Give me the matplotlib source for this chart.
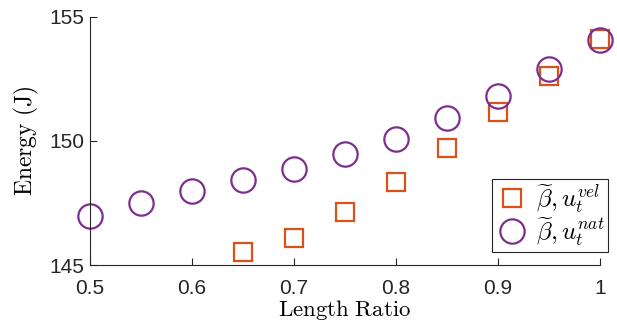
import matplotlib.pyplot as plt

plt.rcParams['mathtext.fontset'] = 'cm'
plt.rcParams['font.family'] = ['Liberation Sans', 'DejaVu Sans']

# energy vs length ratio for both tangential velocity choices
ratio_vel = [0.65, 0.70, 0.75, 0.80, 0.85, 0.90, 0.95, 1.00]
energy_vel = [145.54, 146.11, 147.12, 148.35, 149.72, 151.15, 152.6, 154.1]

ratio_nat = [0.50, 0.55, 0.60, 0.65, 0.70, 0.75, 0.80, 0.85, 0.90, 0.95, 1.00]
energy_nat = [146.98, 147.5, 147.98, 148.43, 148.89, 149.46, 150.1, 150.93, 151.83, 152.9, 154.09]

orange = '#D95319'
purple = '#7E2F8E'

fig = plt.figure(figsize=(6.17, 3.26), dpi=100)
ax = fig.add_axes([0.1459, 0.187, 0.8265, 0.761])

ax.plot(ratio_vel, energy_vel, 's', ms=13.5, mfc='none', mec=orange, mew=1.6,
        label=r'$\widetilde{\beta}, u_t^{vel}$')
ax.plot(ratio_nat, energy_nat, 'o', ms=17.5, mfc='none', mec=purple, mew=1.6,
        label=r'$\widetilde{\beta}, u_t^{nat}$')

ax.set_xlim(0.5, 1.0)
ax.set_ylim(145, 155)
ax.set_xticks([0.5, 0.6, 0.7, 0.8, 0.9, 1.0])
ax.set_xticklabels(['0.5', '0.6', '0.7', '0.8', '0.9', '1'])
ax.set_yticks([145, 150, 155])
ax.tick_params(direction='in', length=5, width=0.8, labelsize=15,
               colors='#262626', pad=4)
ax.tick_params(axis='x', pad=10)
for s in ['top', 'right']:
    ax.spines[s].set_visible(False)
for s in ['left', 'bottom']:
    ax.spines[s].set_color('#262626')
    ax.spines[s].set_linewidth(0.8)
for p in ax.lines:
    p.set_clip_on(False)

ax.set_xlabel(r'$\mathrm{Length\ Ratio}$', fontsize=16.5, labelpad=0)
ax.set_ylabel(r'$\mathrm{Energy\ (J)}$', fontsize=17, labelpad=6)

leg = ax.legend(loc='lower right', bbox_to_anchor=(0.986, 0.227),
                bbox_transform=fig.transFigure, fontsize=18, fancybox=False,
                edgecolor='#262626', framealpha=1, borderpad=0.15,
                handletextpad=0.3, handlelength=1.3, labelspacing=0.0,
                borderaxespad=0)
leg.get_frame().set_linewidth(0.8)

fig.savefig('out.png', dpi=100)
